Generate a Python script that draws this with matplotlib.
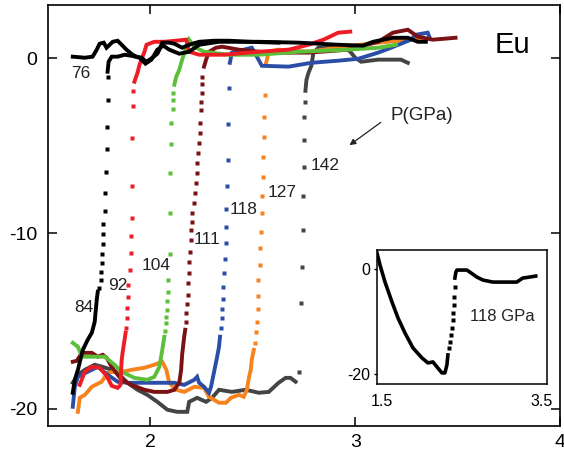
import matplotlib
matplotlib.use("Agg")
import matplotlib.pyplot as plt

plt.rcParams['font.family'] = ['Liberation Sans', 'DejaVu Sans']

# ---- data (x, y) ----
# 76 GPa (black, stays on the upper level)
x76_hi = [1.621, 1.680, 1.718, 1.738, 1.752, 1.772, 1.786, 1.801, 1.816, 1.840, 1.864, 1.883, 1.913, 1.932,
          1.956, 1.981, 2.010, 2.034, 2.044, 2.058, 2.092, 2.117, 2.155, 2.189, 2.238, 2.311, 2.383, 2.481, 2.626]
y76_hi = [0.10, 0.04, 0.10, 0.50, 0.84, 0.90, 0.61, 0.78, 0.95, 1.01, 0.73, 0.50, 0.21, 0.10,
          0.04, -0.19, 0.04, 0.27, 0.50, 0.90, 0.90, 0.84, 0.61, 0.78, 0.95, 1.01, 1.01, 0.95, 0.90]

# 84 GPa (black)
x84_lo = [1.621, 1.631, 1.646, 1.670, 1.694, 1.714, 1.728, 1.738, 1.743]
y84_lo = [-19.10, -18.36, -17.79, -16.65, -16.07, -15.67, -15.05, -13.79, -13.33]
x84_jump = [1.748, 1.757, 1.757, 1.762, 1.762, 1.767, 1.767, 1.767, 1.777, 1.777, 1.782, 1.786, 1.786, 1.791, 1.791]
y84_jump = [-13.10, -12.65, -12.19, -11.68, -11.16, -10.59, -10.02, -9.44, -8.70, -7.67, -6.48, -5.16, -3.90, -2.36, -1.05]
x84_hi = [1.791, 1.796, 1.811, 1.840, 1.874, 1.908, 1.947, 1.976, 2.005, 2.034, 2.063, 2.092, 2.141, 2.189,
          2.238, 2.335, 2.529, 2.723, 2.917, 3.039, 3.087, 3.184, 3.257, 3.306, 3.345]
y84_hi = [-0.76, -0.19, 0.10, 0.10, 0.21, 0.15, 0.04, -0.30, -0.07, 0.50, 0.73, 0.50, 0.27, 0.38,
          0.78, 0.95, 0.95, 0.90, 0.78, 0.73, 0.95, 1.18, 1.18, 0.95, 0.95]

# 92 GPa (red)
x92_lo = [1.655, 1.680, 1.714, 1.752, 1.786, 1.811, 1.840, 1.854, 1.859, 1.864, 1.874, 1.879]
y92_lo = [-18.65, -17.90, -17.62, -17.67, -18.13, -18.70, -18.82, -18.65, -17.33, -16.82, -16.07, -15.67]
x92_jump = [1.883, 1.888, 1.888, 1.893, 1.893, 1.898, 1.903, 1.903, 1.908, 1.908, 1.908, 1.917, 1.917]
y92_jump = [-15.39, -14.82, -14.25, -13.62, -12.93, -12.08, -11.10, -10.13, -9.10, -7.27, -4.53, -2.70, -1.85]
x92_hi = [1.922, 1.937, 1.947, 1.956, 1.971, 1.981, 2.019, 2.068, 2.175, 2.189, 2.238, 2.359, 2.529, 2.675,
          2.772, 2.845, 2.917, 2.976]
y92_hi = [-1.33, -0.82, -0.36, -0.07, 0.38, 0.78, 0.95, 0.95, 1.07, 0.38, 0.21, 0.21, 0.38, 0.50,
          0.78, 1.07, 1.47, 1.53]

# 104 GPa (green)
x104_lo = [1.621, 1.646, 1.665, 1.728, 1.777, 1.825, 1.859, 1.922, 1.985, 2.019, 2.044, 2.058, 2.068]
y104_lo = [-16.25, -16.47, -17.04, -17.04, -17.04, -17.50, -17.90, -18.25, -18.36, -18.19, -17.62, -16.65, -15.90]
x104_jump = [2.073, 2.078, 2.078, 2.083, 2.083, 2.087, 2.087, 2.097, 2.097, 2.097, 2.102, 2.102, 2.112, 2.112, 2.112]
y104_jump = [-15.56, -15.11, -14.76, -14.36, -13.85, -13.33, -12.65, -11.16, -8.82, -6.53, -4.87, -3.67, -2.87, -2.36, -1.96]
x104_hi = [2.117, 2.126, 2.141, 2.155, 2.180, 2.189, 2.214, 2.262, 2.383, 2.529, 2.723, 2.966, 3.112, 3.199]
y104_hi = [-1.50, -1.05, -0.65, -0.07, 0.78, 1.07, 0.67, 0.38, 0.21, 0.21, 0.38, 0.50, 0.61, 0.78]

# 111 GPa (dark red)
x111_lo = [1.621, 1.641, 1.665, 1.714, 1.743, 1.767, 1.786, 1.811, 1.859, 1.908, 1.971, 2.019, 2.083, 2.117,
           2.141, 2.150, 2.155, 2.165, 2.170]
y111_lo = [-17.33, -17.27, -16.82, -16.82, -17.04, -16.93, -17.10, -17.62, -18.36, -18.65, -18.93, -19.05, -19.05, -18.93,
           -18.53, -17.79, -16.93, -15.90, -15.50]
x111_jump = [2.175, 2.175, 2.180, 2.184, 2.184, 2.189, 2.189, 2.194, 2.199, 2.199, 2.204,
             2.204, 2.214, 2.218, 2.223, 2.228, 2.228, 2.233, 2.238, 2.243, 2.243, 2.248, 2.248, 2.252, 2.252, 2.252]
y111_jump = [-15.05, -14.53, -14.02, -13.50, -12.82, -12.25, -11.62, -11.05, -10.36, -9.79, -9.33,
             -8.82, -8.25, -7.67, -7.10, -6.53, -5.96, -5.39, -4.82, -4.25, -3.67, -2.93, -2.47, -1.96, -1.45, -1.05]
x111_hi = [2.262, 2.272, 2.286, 2.320, 2.350, 2.432, 2.578, 2.772, 2.966, 3.112, 3.184, 3.257, 3.306, 3.379, 3.490]
y111_hi = [-0.47, -0.07, 0.38, 0.61, 0.67, 0.50, 0.33, 0.33, 0.50, 0.95, 1.47, 1.64, 1.24, 1.07, 1.18]

# 118 GPa (blue)
x118_lo = [1.621, 1.631, 1.646, 1.694, 1.743, 1.791, 1.840, 1.888, 1.971, 2.053, 2.117, 2.165, 2.214, 2.228,
           2.238, 2.262, 2.286, 2.296, 2.311, 2.325, 2.335, 2.340]
y118_lo = [-19.90, -18.76, -18.19, -17.90, -17.62, -18.07, -18.47, -18.53, -18.53, -18.53, -18.53, -18.65, -18.36, -18.19,
           -18.53, -18.76, -19.10, -18.76, -17.90, -17.10, -16.47, -15.90]
x118_jump = [2.345, 2.350, 2.350, 2.354, 2.354, 2.359, 2.364, 2.369, 2.369, 2.369, 2.374, 2.379, 2.379, 2.383]
y118_jump = [-15.39, -14.82, -14.31, -13.73, -13.05, -12.25, -11.45, -10.55, -9.61, -8.59, -7.27, -5.79, -3.73, -1.68]
x118_hi = [2.388, 2.398, 2.456, 2.495, 2.515, 2.544, 2.675, 2.786, 2.917, 3.015, 3.112, 3.175, 3.272, 3.296, 3.354, 3.364]
y118_hi = [-0.25, 0.33, 0.50, 0.61, 0.21, -0.42, -0.47, -0.25, -0.13, -0.02, 0.33, 0.61, 1.07, 1.35, 1.47, 1.18]

# 127 GPa (orange)
x127_lo = [1.646, 1.655, 1.680, 1.714, 1.762, 1.791, 1.825, 1.864, 1.908, 1.971, 2.019, 2.058, 2.078, 2.092,
           2.126, 2.165, 2.214, 2.262, 2.286, 2.335, 2.369, 2.393, 2.432, 2.456, 2.471, 2.481, 2.490, 2.495, 2.505]
y127_lo = [-20.19, -19.39, -19.22, -18.76, -18.47, -17.96, -17.90, -17.90, -17.79, -17.67, -17.50, -17.33, -17.79, -18.53,
           -18.93, -19.05, -18.76, -18.82, -19.33, -19.67, -19.67, -19.39, -19.22, -19.33, -18.93, -18.25, -17.79, -17.21, -16.65]
x127_jump = [2.510, 2.515, 2.519, 2.524, 2.524, 2.524, 2.534, 2.534, 2.539, 2.544, 2.544, 2.549, 2.549, 2.553, 2.553, 2.558]
y127_jump = [-16.25, -15.62, -15.05, -14.31, -13.56, -12.65, -11.79, -10.82, -9.90, -8.82, -7.85, -6.76, -5.62, -4.47, -3.33, -2.07]
x127_hi = [2.563, 2.578, 2.626, 2.772, 2.917, 3.063, 3.209, 3.330]
y127_hi = [-0.36, 0.38, 0.50, 0.38, 0.61, 0.84, 1.01, 1.18]

# 142 GPa (dark grey)
x142_lo = [1.621, 1.646, 1.680, 1.728, 1.767, 1.811, 1.840, 1.888, 1.937, 1.985, 2.034, 2.083, 2.131, 2.180,
           2.189, 2.228, 2.272, 2.301, 2.335, 2.398, 2.466, 2.529, 2.578, 2.626, 2.660, 2.684, 2.709]
y142_lo = [-18.53, -18.07, -17.79, -17.50, -17.62, -17.79, -17.96, -18.53, -18.93, -19.22, -19.62, -20.07, -20.19, -20.19,
           -19.62, -19.39, -19.62, -19.39, -18.93, -19.05, -18.93, -19.10, -19.05, -18.53, -18.25, -18.25, -18.47]
x142_jump = [2.728, 2.733, 2.738, 2.743, 2.743, 2.748, 2.748, 2.752, 2.757]
y142_jump = [-17.90, -13.96, -11.91, -9.79, -7.85, -6.19, -4.65, -3.33, -2.47]
x142_hi = [2.757, 2.762, 2.772, 2.786, 2.796, 2.820, 2.951, 2.976, 3.000, 3.029, 3.112, 3.223, 3.257]
y142_hi = [-1.85, -1.22, -0.82, -0.42, 0.33, 0.61, 0.61, 0.38, 0.04, -0.19, -0.07, -0.07, -0.25]

# inset: 118 GPa
xin_lo = [1.4375, 1.475, 1.5375, 1.625, 1.70, 1.7875, 1.8875, 2.0, 2.075, 2.1375, 2.1875, 2.25, 2.2875, 2.3125, 2.325]
yin_lo = [3.11, 0.82, -2.43, -6.25, -9.30, -12.17, -15.03, -16.94, -17.90, -17.71, -18.66, -19.81, -19.81, -18.28, -16.37]
xin_jump = [2.3375, 2.35, 2.3625, 2.375, 2.3875, 2.3875, 2.40, 2.40, 2.4125]
yin_jump = [-15.03, -13.89, -12.55, -11.21, -9.68, -8.35, -6.82, -5.29, -3.38]
xin_hi = [2.4125, 2.425, 2.4375, 2.5625, 2.60, 2.6875, 2.7625, 2.8875, 3.1875, 3.2625, 3.35, 3.425]
yin_hi = [-1.66, -0.52, -0.13, -0.13, -0.52, -1.47, -2.04, -2.43, -2.43, -1.66, -1.47, -1.28]

pressures = ['76', '84', '92', '104', '111', '118', '127', '142']
colors = {'76': '#000000', '84': '#000000', '92': '#ee1c24', '104': '#5cbf3a', '111': '#7b1113',
          '118': '#2a4ea6', '127': '#f7831e', '142': '#444444'}

curves = [
    ('76', None, None, None, None, x76_hi, y76_hi),
    ('84', x84_lo, y84_lo, x84_jump, y84_jump, x84_hi, y84_hi),
    ('92', x92_lo, y92_lo, x92_jump, y92_jump, x92_hi, y92_hi),
    ('104', x104_lo, y104_lo, x104_jump, y104_jump, x104_hi, y104_hi),
    ('111', x111_lo, y111_lo, x111_jump, y111_jump, x111_hi, y111_hi),
    ('118', x118_lo, y118_lo, x118_jump, y118_jump, x118_hi, y118_hi),
    ('127', x127_lo, y127_lo, x127_jump, y127_jump, x127_hi, y127_hi),
    ('142', x142_lo, y142_lo, x142_jump, y142_jump, x142_hi, y142_hi),
]

# label positions (centre of each pressure label)
label_pos = {'76': (1.660, -0.87), '84': (1.675, -14.25), '92': (1.840, -13.0), '104': (2.029, -11.85),
             '111': (2.277, -10.36), '118': (2.456, -8.65), '127': (2.641, -7.68), '142': (2.854, -6.13)}

fig = plt.figure(figsize=(5.64, 4.57), dpi=100)
ax = fig.add_axes([0.0851, 0.0678, 0.9078, 0.9212])

lw = 2.8
ms = 2.8
# draw grey first, black last like the original layering
order = ['142', '127', '118', '111', '104', '92', '84', '76']
for p in order:
    for name, xl, yl, xj, yj, xh, yh in curves:
        if name != p:
            continue
        c = colors[name]
        if xl is not None:
            ax.plot(xl, yl, color=c, lw=lw, solid_joinstyle='miter')
            ax.plot(xj, yj, ls='none', marker='s', ms=ms, mec='none', color=c)
        ax.plot(xh, yh, color=c, lw=lw, solid_joinstyle='miter')

for p in pressures:
    lx, ly = label_pos[p]
    ax.text(lx, ly, p, fontsize=12.5, ha='center', va='center', color='#222222')

ax.text(3.77, 0.78, 'Eu', fontsize=21, ha='center', va='center')
ax.annotate('', xy=(2.961, -5.05), xytext=(3.136, -3.56),
            arrowprops=dict(arrowstyle='-|>', color='#222222', lw=0.9, mutation_scale=9))
ax.text(3.17, -3.28, 'P(GPa)', fontsize=13.5, ha='left', va='center', color='#222222')

ax.set_xlim(1.5, 3.985)
ax.set_ylim(-21, 3.05)
ax.set_xticks([2, 3, 4])
ax.set_yticks([0, -10, -20])
ax.set_xticklabels(['2', '3', '4'])
ax.set_yticklabels(['0', '-10', '-20'])
ax.tick_params(direction='in', length=6.5, width=1.1, top=True, right=True, labelsize=14)
ax.tick_params(axis='y', pad=8)
ax.tick_params(axis='x', pad=6)
for s in ax.spines.values():
    s.set_linewidth(1.2)

# inset
axi = fig.add_axes([0.668, 0.159, 0.301, 0.295])
axi.plot(xin_lo, yin_lo, color='black', lw=2.6)
axi.plot(xin_jump, yin_jump, ls='none', marker='s', ms=2.6, mec='none', color='black')
axi.plot(xin_hi, yin_hi, color='black', lw=2.6)
axi.text(3.01, -9.1, '118 GPa', fontsize=12, ha='center', va='center', color='#222222')
axi.set_xlim(1.434, 3.56)
axi.set_ylim(-22.0, 3.8)
axi.set_xticks([1.5, 3.5])
axi.set_xticklabels(['1.5', '3.5'])
axi.set_yticks([0, -20])
axi.set_yticklabels(['0', '-20'])
axi.tick_params(axis='x', length=0, pad=7, labelsize=11.5)
axi.tick_params(axis='y', direction='out', length=2, width=1, pad=3, labelsize=11.5)
for s in axi.spines.values():
    s.set_linewidth(1.1)

fig.savefig('out.png', dpi=100)
